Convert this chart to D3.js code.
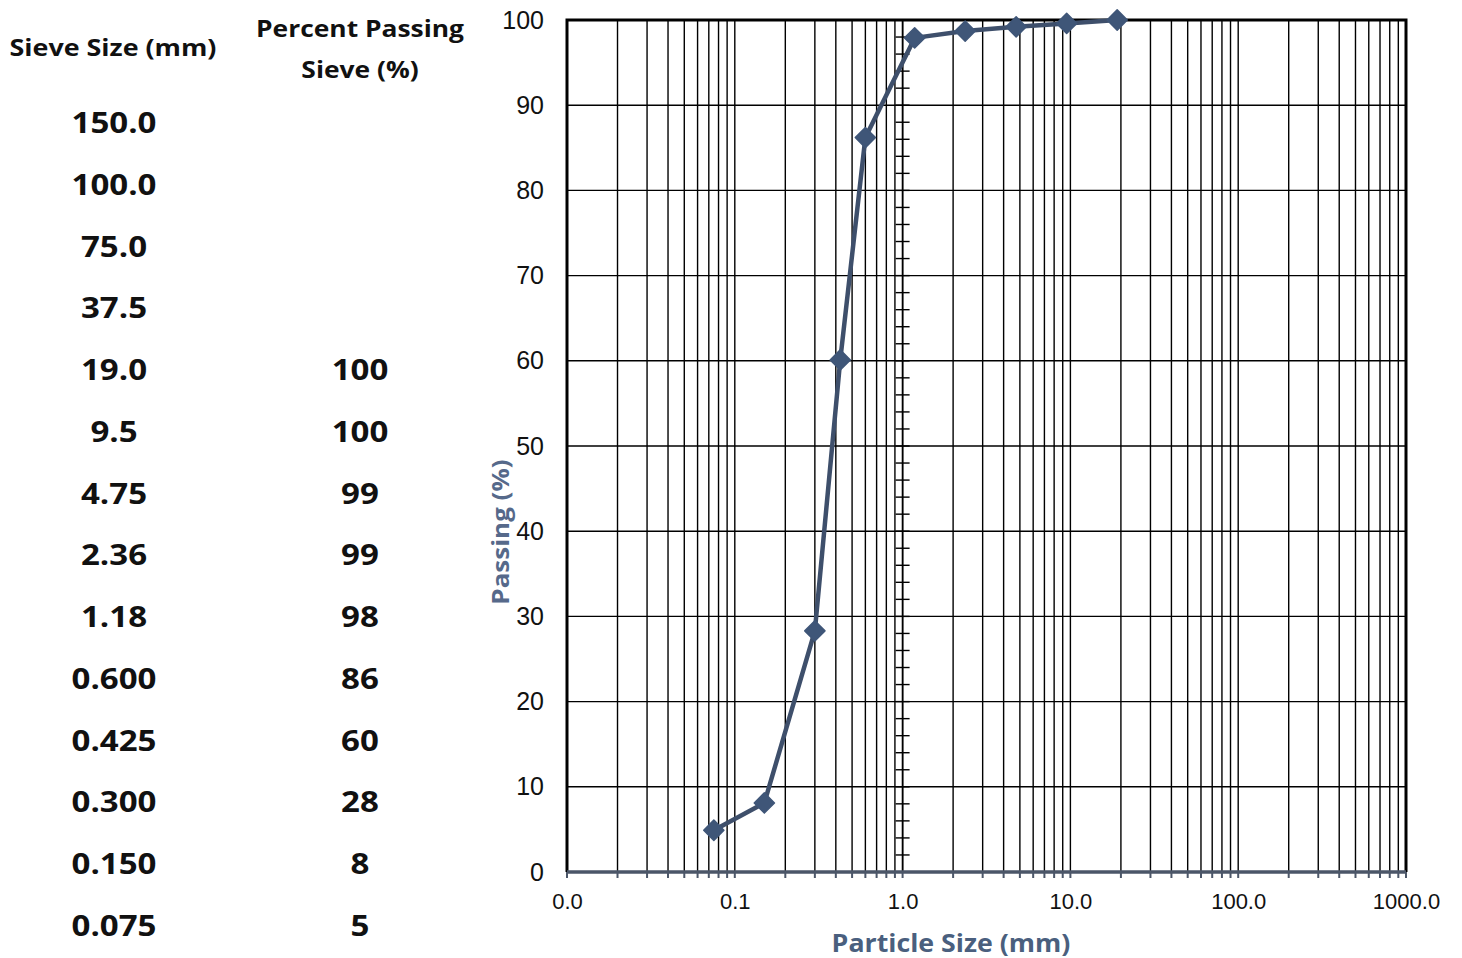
<!DOCTYPE html>
<html><head><meta charset="utf-8">
<script src="https://cdn.jsdelivr.net/npm/d3@7"></script>
<style>body{margin:0;background:#fff}svg{display:block}</style>
</head><body>
<svg id="c" width="1462" height="958"></svg>
<script>
// ---- data ----
const sieveSizes = ["150.0","100.0","75.0","37.5","19.0","9.5","4.75","2.36","1.18","0.600","0.425","0.300","0.150","0.075"];
const percentPassing = ["","","","","100","100","99","99","98","86","60","28","8","5"];
const curveSize = [19, 9.5, 4.75, 2.36, 1.18, 0.6, 0.425, 0.3, 0.15, 0.075];
const curvePassing = [100, 99.6, 99.2, 98.7, 97.9, 86.2, 60.1, 28.3, 8.1, 4.9];
const xTickValues = [0.01, 0.1, 1, 10, 100, 1000];
const yTickValues = [0,10,20,30,40,50,60,70,80,90,100];
const headerSize = ["Sieve Size (mm)"];
const headerPass = ["Percent Passing", "Sieve (%)"];
const xTitle = "Particle Size (mm)";
const yTitle = "Passing (%)";

const svg = d3.select("#c");
const L = 567, R = 1406, T = 20, B = 872;
const x = d3.scaleLog().domain([0.01, 1000]).range([L, R]);
const y = d3.scaleLinear().domain([0, 100]).range([B, T]);

const tf = "'Open Sans', Lato, sans-serif";
function label(g, txt, cx, cy, size, stretch, color, rot) {
  return g.append("text")
    .attr("transform", `translate(${cx},${cy})` + (rot ? ` rotate(${rot})` : "") + ` scale(${stretch},1)`)
    .attr("text-anchor", "middle").attr("dominant-baseline", "central")
    .attr("font-family", tf).attr("font-weight", "bold").attr("font-size", size)
    .attr("fill", color).text(txt);
}

// ---- table ----
const rowY = d3.scalePoint().domain(d3.range(sieveSizes.length)).range([122, 925]);
const tbl = svg.append("g");
headerSize.forEach(t => label(tbl, t, 113, 47, 24, 1.12, "#111"));
headerPass.forEach((t, i) => label(tbl, t, 360, 27 + i * 41, 24, 1.1, "#111"));
sieveSizes.forEach((t, i) => label(tbl, t, 114, rowY(i), 28, 1.18, "#111"));
percentPassing.forEach((t, i) => { if (t) label(tbl, t, 360, rowY(i), 28, 1.18, "#111"); });

// ---- grid ----
const allX = [];
for (let e = -2; e < 3; e++) for (let m = 1; m < 10; m++) allX.push(m * Math.pow(10, e));
allX.push(1000);
const grid = svg.append("g");
grid.selectAll("line.v").data(allX).join("line").attr("class","v")
  .attr("x1", d=>x(d)).attr("x2", d=>x(d)).attr("y1", T).attr("y2", B)
  .attr("stroke", "#000").attr("stroke-width", 1.4);
grid.selectAll("line.h").data(yTickValues).join("line").attr("class","h")
  .attr("x1", L).attr("x2", R).attr("y1", d=>y(d)).attr("y2", d=>y(d))
  .attr("stroke", "#000").attr("stroke-width", 1.4);

// frame
svg.append("path").attr("d", `M${L},${B}V${T}H${R}V${B}`).attr("fill","none")
  .attr("stroke","#000").attr("stroke-width", 3);

// y-axis (crosses at x = 1) with minor ticks
const yMinor = d3.range(0, 101, 2);
svg.append("g").selectAll("line").data(yMinor).join("line")
  .attr("x1", x(1) - 7).attr("x2", x(1) + 7).attr("y1", d=>y(d)).attr("y2", d=>y(d))
  .attr("stroke", "#000").attr("stroke-width", 1.4);
svg.append("line").attr("x1", x(1)).attr("x2", x(1)).attr("y1", T).attr("y2", B)
  .attr("stroke", "#000").attr("stroke-width", 1.6);

// y tick labels
const tickFont = "'Liberation Sans', Arial, sans-serif";
const yAxis = d3.axisLeft(y).tickValues(yTickValues).tickSize(0).tickPadding(0).tickFormat(d3.format("d"));
const yg = svg.append("g").attr("transform", `translate(${L - 23},0)`).call(yAxis);
yg.select(".domain").remove();
yg.selectAll("text").attr("font-family", tickFont).attr("font-size", 25).attr("fill","#111");

// x-axis
const xAxis = d3.axisBottom(x).tickValues(xTickValues).tickSize(0).tickPadding(0).tickFormat(d3.format(".1f"));
const xg = svg.append("g").attr("transform", `translate(0,${B + 21})`).call(xAxis);
xg.select(".domain").remove();
xg.selectAll("text").attr("font-family", tickFont).attr("font-size", 22).attr("fill","#111");

svg.append("g").selectAll("line").data(allX).join("line")
  .attr("x1", d=>x(d)).attr("x2", d=>x(d)).attr("y1", B).attr("y2", B + 6)
  .attr("stroke", "#4b5668").attr("stroke-width", 2);
svg.append("line").attr("x1", L).attr("x2", R).attr("y1", B).attr("y2", B)
  .attr("stroke", "#4b5668").attr("stroke-width", 3.5);

// titles
label(svg, xTitle, 951, 942, 25, 1.07, "#4a5f7e");
label(svg, yTitle, 500, 532, 23, 1.13, "#56698a", -90);

// ---- curve ----
const pts = curveSize.map((s,i)=>({s, p: curvePassing[i]}));
svg.append("path").datum(pts)
  .attr("d", d3.line().x(d=>x(d.s)).y(d=>y(d.p)))
  .attr("fill","none").attr("stroke","#3e4f6b").attr("stroke-width", 4.5).attr("stroke-linejoin","round");
const sym = d3.symbol().type(d3.symbolDiamond2).size(260);
svg.append("g").selectAll("path").data(pts).join("path")
  .attr("transform", d=>`translate(${x(d.s)},${y(d.p)})`)
  .attr("d", sym).attr("fill","#3f5678").attr("stroke","#3f5678").attr("stroke-width", 1.5).attr("stroke-linejoin","round");
</script>
</body></html>
